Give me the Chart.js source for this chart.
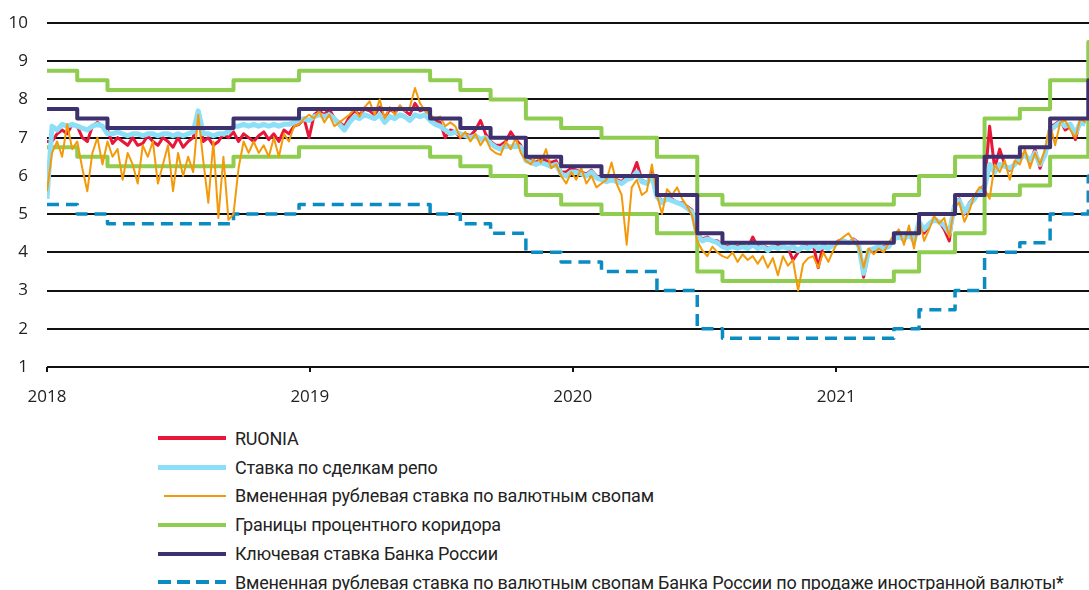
<!DOCTYPE html>
<html>
<head>
<meta charset="utf-8">
<script src="https://cdn.jsdelivr.net/npm/chart.js@4.4.1/dist/chart.umd.min.js"></script>
<style>
  body { margin: 0; background: #fff; width: 1089px; height: 590px; overflow: hidden; font-family: Roboto, sans-serif; }
  #wrap { position: absolute; left: 0; top: 0; width: 1089px; height: 410px; }
  #legend { position: absolute; left: 158px; top: 424px; }
  .row { height: 28.8px; display: flex; align-items: center; }
  .sw { width: 68px; margin-right: 9px; }
  .lbl { font-size: 18px; color: #222; white-space: nowrap; letter-spacing: -0.22px; }
</style>
</head>
<body>
<div id="wrap"><canvas id="chart"></canvas></div>
<div id="legend"></div>
<script>
// x axis: days since 2018-01-01
const years = ['2018', '2019', '2020', '2021'];
const yearStartDays = [0, 365, 730, 1096];
const lastDay = 1447;

// step series (dates of change)
const stepDates = ['2018-01-01', '2018-02-12', '2018-03-26', '2018-09-17', '2018-12-17', '2019-06-17', '2019-07-29',
  '2019-09-09', '2019-10-28', '2019-12-16', '2020-02-10', '2020-04-27', '2020-06-22', '2020-07-27', '2021-03-22',
  '2021-04-26', '2021-06-15', '2021-07-26', '2021-09-13', '2021-10-25', '2021-12-17'];
const keyRate = [7.75, 7.5, 7.25, 7.5, 7.75, 7.5, 7.25, 7.0, 6.5, 6.25, 6.0, 5.5, 4.5, 4.25, 4.5, 5.0, 5.5, 6.5, 6.75, 7.5, 8.5];
const corridorUpper = [8.75, 8.5, 8.25, 8.5, 8.75, 8.5, 8.25, 8.0, 7.5, 7.25, 7.0, 6.5, 5.5, 5.25, 5.5, 6.0, 6.5, 7.5, 7.75, 8.5, 9.5];
const corridorLower = [6.75, 6.5, 6.25, 6.5, 6.75, 6.5, 6.25, 6.0, 5.5, 5.25, 5.0, 4.5, 3.5, 3.25, 3.5, 4.0, 4.5, 5.5, 5.75, 6.5, 7.5];
const cbrSwap = [5.25, 5.0, 4.75, 5.0, 5.25, 5.0, 4.75, 4.5, 4.0, 3.75, 3.5, 3.0, 2.0, 1.75, 2.0, 2.5, 3.0, 4.0, 4.25, 5.0, 6.0];

// weekly series, week 0 = 2018-01-01
const ruonia = [
  6.9, 6.9, 7.1, 7.2, 7.1, 7.35, 7.3, 7.0, 6.9, 7.3, 7.4, 7.3, 7.2, 6.85, 7.0, 6.9, 6.8, 7.0, 6.8, 6.85, 7.05, 6.9, 6.8, 7.0, 6.9, 6.75,
  7.0, 6.75, 6.9, 7.0, 7.7, 6.9, 7.0, 6.8, 6.9, 7.1, 7.0, 7.15, 6.9, 7.1, 7.0, 6.9, 7.05, 7.15, 6.95, 7.1, 6.9, 7.2, 7.1, 7.3, 7.35, 7.5, 7.0,
  7.6, 7.7, 7.6, 7.75, 7.5, 7.4, 7.3, 7.55, 7.7, 7.6, 7.75, 7.7, 7.6, 7.8, 7.5, 7.75, 7.65, 7.8, 7.7, 7.6, 7.9, 7.7, 7.75, 7.5, 7.45, 7.4,
  7.0, 7.2, 7.15, 7.0, 7.1, 7.05, 7.2, 7.45, 7.1, 6.9, 6.8, 6.8, 6.9, 7.15, 6.95, 6.8, 6.5, 6.4, 6.35, 6.45, 6.4, 6.35, 6.4, 6.1, 6.1, 6.2,
  6.15, 6.1, 6.05, 6.15, 6.0, 5.95, 5.9, 5.9, 5.9, 5.85, 6.0, 6.0, 6.35, 5.9, 5.8, 6.1, 5.5, 5.35, 5.4, 5.4, 5.3, 5.3, 5.2, 5.1, 4.5, 4.35,
  4.4, 4.3, 4.3, 4.2, 4.15, 4.2, 4.15, 4.2, 4.1, 4.4, 4.15, 4.2, 4.1, 4.15, 4.2, 4.15, 4.1, 3.8, 4.0, 4.2, 4.15, 4.2, 3.6, 4.2, 4.1, 4.2,
  4.3, 4.3, 4.25, 4.35, 4.25, 3.35, 4.0, 4.05, 4.1, 4.15, 4.2, 4.4, 4.45, 4.3, 4.5, 4.25, 4.85, 4.5, 4.7, 4.9, 4.8, 4.6, 4.3, 5.25, 5.4,
  5.0, 5.3, 5.45, 5.65, 5.75, 7.3, 6.2, 6.7, 6.3, 6.15, 6.35, 6.5, 6.6, 6.35, 6.7, 6.2, 6.6, 7.3, 7.35, 7.45, 7.2, 7.3, 6.95, 7.45, 7.4
];
const repo = [
  5.4, 7.3, 7.2, 7.35, 7.3, 7.35, 7.3, 7.25, 7.2, 7.3, 7.35, 7.3, 7.1, 7.1, 7.15, 7.1, 7.05, 7.1, 7.1, 7.05, 7.1, 7.1, 7.05, 7.1, 7.1, 7.05,
  7.1, 7.05, 7.1, 7.15, 7.7, 7.1, 7.1, 7.05, 7.1, 7.1, 7.15, 7.3, 7.3, 7.35, 7.3, 7.35, 7.3, 7.35, 7.3, 7.35, 7.3, 7.35, 7.35, 7.4, 7.45, 7.5, 7.45,
  7.55, 7.6, 7.55, 7.6, 7.5, 7.35, 7.2, 7.4, 7.55, 7.5, 7.6, 7.55, 7.5, 7.6, 7.4, 7.55, 7.5, 7.6, 7.55, 7.45, 7.6, 7.55, 7.6, 7.45, 7.35, 7.3,
  7.2, 7.1, 7.15, 7.1, 7.05, 7.0, 7.05, 6.95, 7.0, 6.85, 6.75, 6.7, 6.8, 6.75, 6.8, 6.75, 6.4, 6.35, 6.3, 6.35, 6.3, 6.25, 6.3, 6.05, 6.0, 6.1,
  6.1, 6.05, 6.0, 6.1, 5.95, 5.9, 5.85, 5.9, 5.85, 5.8, 5.9, 5.95, 6.1, 5.85, 5.8, 6.0, 5.45, 5.3, 5.4, 5.35, 5.3, 5.25, 5.15, 5.05, 4.45, 4.3,
  4.35, 4.3, 4.25, 4.15, 4.1, 4.15, 4.1, 4.15, 4.1, 4.2, 4.1, 4.15, 4.05, 4.15, 4.1, 4.15, 4.1, 4.15, 4.05, 4.15, 4.1, 4.2, 4.1, 4.15, 4.1, 4.2,
  4.25, 4.3, 4.25, 4.3, 4.2, 3.45, 4.05, 4.1, 4.15, 4.1, 4.15, 4.35, 4.4, 4.35, 4.45, 4.3, 4.8, 4.6, 4.75, 4.85, 4.8, 4.7, 4.5, 5.2, 5.35,
  5.05, 5.25, 5.4, 5.6, 5.7, 6.3, 6.1, 6.3, 6.25, 6.2, 6.3, 6.45, 6.55, 6.4, 6.6, 6.3, 6.55, 7.2, 7.3, 7.4, 7.3, 7.35, 7.1, 7.4, 7.35
];
const fxSwap = [
  5.6, 6.6, 6.9, 6.5, 7.35, 6.7, 6.9, 6.2, 5.6, 6.6, 7.0, 6.3, 6.9, 6.5, 6.7, 5.9, 6.6, 6.3, 5.8, 6.8, 6.5, 6.9, 5.8, 6.3, 6.8, 5.6,
  6.6, 6.0, 6.5, 6.1, 7.6, 6.4, 5.3, 6.9, 4.9, 6.5, 4.85, 5.0, 6.2, 6.9, 6.6, 6.9, 6.6, 6.8, 6.5, 7.0, 6.5, 7.1, 6.9, 7.3, 7.35, 7.5, 7.6,
  7.5, 7.7, 7.4, 7.6, 7.3, 7.4, 7.5, 7.6, 7.75, 7.55, 7.8, 7.95, 7.6, 8.0, 7.5, 7.8, 7.6, 7.85, 7.7, 7.8, 8.3, 7.9, 7.7, 7.6, 7.5, 7.55,
  7.3, 7.4, 7.3, 7.0, 7.15, 6.9, 7.1, 6.8, 7.0, 6.7, 6.6, 6.55, 6.9, 6.7, 7.0, 6.6, 6.4, 6.3, 6.5, 6.35, 6.7, 6.2, 6.3, 6.0, 5.8, 6.1,
  5.9, 6.2, 5.8, 6.0, 5.7, 5.8, 5.9, 6.35, 5.8, 5.5, 4.2, 5.7, 5.9, 5.5, 5.6, 6.3, 5.5, 5.0, 5.65, 5.5, 5.7, 5.4, 5.2, 4.95, 4.3, 4.05,
  3.9, 4.15, 4.0, 3.9, 3.85, 4.0, 3.75, 3.95, 3.8, 3.9, 3.7, 3.9, 3.6, 3.85, 3.4, 3.9, 3.65, 3.8, 3.0, 3.7, 3.85, 3.9, 3.6, 4.0, 3.75, 4.05,
  4.3, 4.4, 4.5, 4.3, 4.15, 3.6, 4.1, 3.95, 4.1, 4.0, 4.25, 4.45, 4.6, 4.2, 4.7, 4.1, 4.9, 4.3, 4.6, 4.95, 4.75, 4.9, 4.4, 5.2, 5.3,
  4.8, 5.1, 5.5, 5.7, 5.65, 5.4, 6.3, 6.1, 6.4, 5.9, 6.4, 6.3, 6.7, 6.2, 6.6, 6.3, 6.7, 7.35, 6.8, 7.4, 7.45, 7.2, 7.0, 7.5, 7.4
];

const labels = [
  'RUONIA',
  'Ставка по сделкам репо',
  'Вмененная рублевая ставка по валютным свопам',
  'Границы процентного коридора',
  'Ключевая ставка Банка России',
  'Вмененная рублевая ставка по валютным свопам Банка России по продаже иностранной валюты*'
];

const RED = '#e8173a', SKY = '#8ddff7', ORANGE = '#f39a0b', GREEN = '#8fcd50', PURPLE = '#3e316f', BLUE = '#0a8bc2';

const day0 = Date.parse('2018-01-01');
function dayOf(s) { return Math.round((Date.parse(s) - day0) / 86400000); }
function steps(values) {
  const pts = stepDates.map((d, i) => ({ x: dayOf(d), y: values[i] }));
  pts.push({ x: lastDay, y: values[values.length - 1] });
  return pts;
}
function weekly(values) {
  return values.map((v, i) => ({ x: i * 7, y: v }));
}

const ctx = document.getElementById('chart').getContext('2d');
const chart = new Chart(ctx, {
  type: 'line',
  data: {
    datasets: [
      { label: labels[0], data: weekly(ruonia), borderColor: RED, borderWidth: 3, order: 4 },
      { label: labels[1], data: weekly(repo), borderColor: SKY, borderWidth: 5, order: 3 },
      { label: labels[2], data: weekly(fxSwap), borderColor: ORANGE, borderWidth: 2, order: 2 },
      { label: labels[3], data: steps(corridorUpper), borderColor: GREEN, borderWidth: 4, stepped: true, order: 6 },
      { label: labels[3], data: steps(corridorLower), borderColor: GREEN, borderWidth: 4, stepped: true, order: 6 },
      { label: labels[4], data: steps(keyRate), borderColor: PURPLE, borderWidth: 4, stepped: true, order: 1 },
      { label: labels[5], data: steps(cbrSwap), borderColor: BLUE, borderWidth: 3.5, borderDash: [12, 7], stepped: true, order: 5 }
    ]
  },
  options: {
    responsive: true,
    maintainAspectRatio: false,
    animation: false,
    layout: { padding: { top: 23, right: 0, left: 0, bottom: 0 } },
    elements: { point: { radius: 0 }, line: { tension: 0, borderJoinStyle: 'round' } },
    plugins: { legend: { display: false }, tooltip: { enabled: false } },
    scales: {
      x: {
        type: 'linear',
        min: 0,
        max: lastDay,
        afterBuildTicks: scale => { scale.ticks = yearStartDays.map(v => ({ value: v })); },
        afterFit: scale => { scale.height = 43; },
        ticks: {
          autoSkip: false,
          maxRotation: 0,
          padding: 15,
          color: '#222',
          font: { family: 'Open Sans', size: 17 },
          callback: v => years[yearStartDays.indexOf(v)]
        },
        grid: { drawOnChartArea: false, drawTicks: true, tickLength: 5, color: '#111', lineWidth: 2 },
        border: { display: false }
      },
      y: {
        min: 1,
        max: 10,
        afterFit: scale => { scale.width = 47; },
        ticks: { stepSize: 1, padding: 2, color: '#222', font: { family: 'Open Sans', size: 17 } },
        // invisible tick marks push the labels away from the plot
        grid: { color: '#111', lineWidth: 2, drawTicks: true, tickLength: 17, tickColor: 'rgba(0,0,0,0)' },
        border: { display: false }
      }
    }
  }
});

// legend below the chart, one entry per row
const swatches = [
  'height:4px;background:' + RED,
  'height:5px;background:' + SKY,
  'height:2px;background:' + ORANGE + ';margin-left:6px;width:62px',
  'height:4px;background:' + GREEN,
  'height:4px;background:' + PURPLE,
  'height:4px;background:repeating-linear-gradient(to right,' + BLUE + ' 0 13px,transparent 13px 19px)'
];
const legend = document.getElementById('legend');
labels.forEach((text, i) => {
  const row = document.createElement('div');
  row.className = 'row';
  row.innerHTML = '<div class="sw" style="' + swatches[i] + '"></div><div class="lbl">' + text + '</div>';
  legend.appendChild(row);
});
</script>
</body>
</html>
